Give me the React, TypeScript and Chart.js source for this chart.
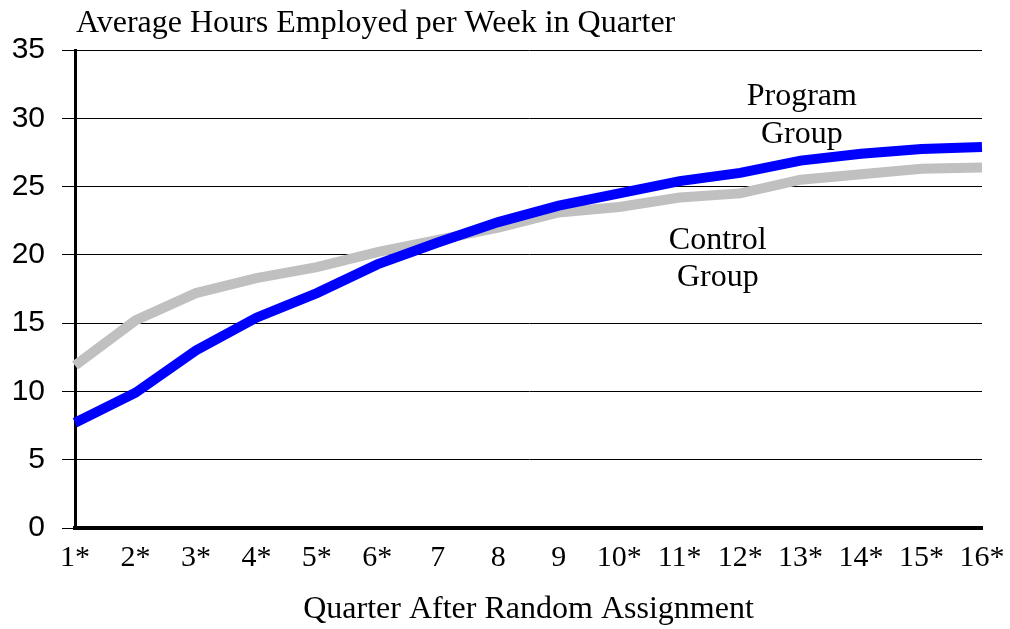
import React, { useEffect, useRef } from "react";
import { Chart, registerables } from "chart.js";

Chart.register(...registerables);

const chartTitle = "Average Hours Employed per Week in Quarter";
const xAxisTitle = "Quarter After Random Assignment";
const quarters = ["1*", "2*", "3*", "4*", "5*", "6*", "7", "8", "9", "10*", "11*", "12*", "13*", "14*", "15*", "16*"];
const programGroup = [7.7, 9.9, 13.0, 15.4, 17.2, 19.3, 20.9, 22.4, 23.6, 24.5, 25.4, 26.0, 26.9, 27.4, 27.75, 27.9];
const controlGroup = [11.9, 15.2, 17.2, 18.3, 19.1, 20.2, 21.1, 22.0, 23.1, 23.5, 24.2, 24.5, 25.5, 25.9, 26.3, 26.4];
const yTicks = [0, 5, 10, 15, 20, 25, 30, 35];

// annotation labels: [text, x (category index), y (value at text baseline)]
const programLabelLines: [string, number, number][] = [
  ["Program", 12.02, 30.96],
  ["Group", 12.02, 28.19],
];
const controlLabelLines: [string, number, number][] = [
  ["Control", 10.63, 20.43],
  ["Group", 10.63, 17.72],
];

const SERIF = "'Liberation Serif', 'Times New Roman', serif";
const SANS = "'Liberation Sans', Arial, sans-serif";

const textPlugin = {
  id: "textPlugin",
  afterDraw(chart: any) {
    const { ctx, chartArea, scales } = chart;
    ctx.save();
    ctx.fillStyle = "#000";
    ctx.font = `32px ${SERIF}`;
    ctx.textBaseline = "alphabetic";
    ctx.textAlign = "left";
    ctx.fillText(chartTitle, chartArea.left + 1, chartArea.top - 18);
    ctx.textAlign = "center";
    ctx.fillText(xAxisTitle, (chartArea.left + chartArea.right) / 2, chartArea.bottom + 90);
    [...programLabelLines, ...controlLabelLines].forEach(([t, xi, yv]) => {
      ctx.fillText(t, scales.x.getPixelForValue(xi), scales.y.getPixelForValue(yv));
    });
    ctx.restore();
  },
};

export default function App() {
  const ref = useRef<HTMLCanvasElement>(null);
  useEffect(() => {
    if (!ref.current) return;
    const chart = new Chart(ref.current, {
      type: "line",
      data: {
        labels: quarters,
        datasets: [
          {
            label: "Program Group",
            data: programGroup,
            borderColor: "#0000ff",
            backgroundColor: "#0000ff",
            borderWidth: 10,
            pointRadius: 0,
            tension: 0,
            borderJoinStyle: "miter",
          },
          {
            label: "Control Group",
            data: controlGroup,
            borderColor: "#c0c0c0",
            backgroundColor: "#c0c0c0",
            borderWidth: 10,
            pointRadius: 0,
            tension: 0,
            borderJoinStyle: "miter",
          },
        ],
      },
      options: {
        animation: false,
        responsive: true,
        maintainAspectRatio: false,
        layout: { padding: { left: 0, right: 28, top: 50, bottom: 0 } },
        plugins: {
          legend: { display: false },
          tooltip: { enabled: false },
          title: { display: false },
        },
        scales: {
          x: {
            type: "category",
            offset: false,
            grid: { display: false, drawTicks: false },
            border: { display: true, color: "#000", width: 4 },
            ticks: {
              autoSkip: false,
              maxRotation: 0,
              minRotation: 0,
              color: "#000",
              font: { family: SERIF, size: 30 },
              padding: 12,
            },
            afterFit: (s: any) => {
              s.height = 101;
              s.paddingLeft = 0;
              s.paddingRight = 0;
            },
          },
          y: {
            min: 0,
            max: 35,
            afterBuildTicks: (s: any) => {
              s.ticks = yTicks.map((v) => ({ value: v }));
            },
            grid: { color: "#000", lineWidth: 1, tickLength: 13, drawTicks: true },
            border: { display: true, color: "#000", width: 3 },
            ticks: {
              color: "#000",
              font: { family: SANS, size: 30 },
              padding: 17,
            },
            afterFit: (s: any) => {
              s.width = 75;
              s.paddingTop = 0;
              s.paddingBottom = 0;
            },
          },
        },
      },
      plugins: [textPlugin],
    });
    return () => chart.destroy();
  }, []);
  return (
    <div style={{ position: "absolute", left: 0, top: 0, width: 1010, height: 629, background: "#fff" }}>
      <canvas ref={ref} />
    </div>
  );
}
